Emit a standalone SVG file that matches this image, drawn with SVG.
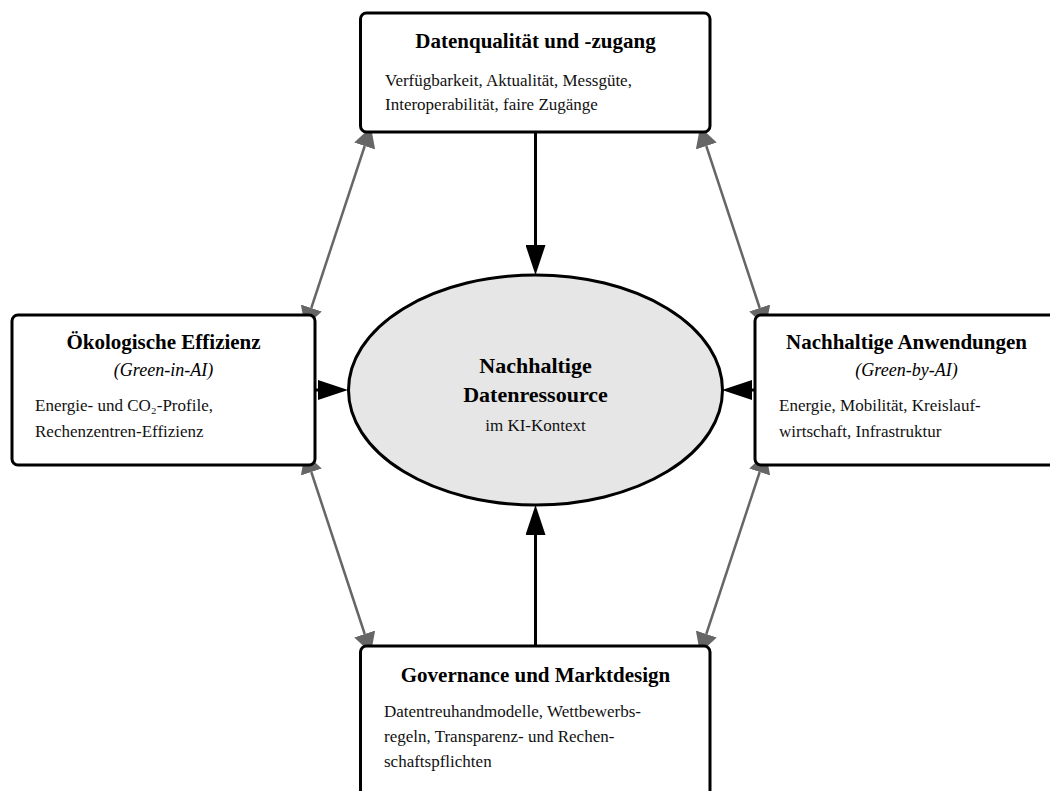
<svg xmlns="http://www.w3.org/2000/svg" width="1050" height="791" viewBox="0 0 1050 791">
  <defs>
    <style>
      .box { fill: #ffffff; stroke: #000000; stroke-width: 3; }
      .core { fill: #e6e6e6; stroke: #000000; stroke-width: 3; }
      .title { font-family: "Liberation Serif", "Times New Roman", serif; font-size: 21px; font-weight: bold; fill: #000; text-anchor: middle; }
      .core-title { font-family: "Liberation Serif", "Times New Roman", serif; font-size: 22px; font-weight: bold; fill: #000; text-anchor: middle; }
      .sub { font-family: "Liberation Serif", "Times New Roman", serif; font-size: 18px; font-style: italic; fill: #000; text-anchor: middle; }
      .body { font-family: "Liberation Serif", "Times New Roman", "DejaVu Serif", serif; font-size: 17px; fill: #111; }
      .core-body { font-family: "Liberation Serif", "Times New Roman", serif; font-size: 17px; fill: #111; text-anchor: middle; }
      .flow { stroke: #000000; stroke-width: 3; fill: none; marker-end: url(#headBlack); }
      .link { stroke: #666666; stroke-width: 2.5; fill: none; marker-start: url(#headGray); marker-end: url(#headGray); }
    </style>
    <marker id="headBlack" viewBox="0 0 30 20" refX="0" refY="10" markerWidth="30" markerHeight="20" markerUnits="userSpaceOnUse" orient="auto">
      <path d="M0,0 L30,10 L0,20 z" fill="#000000"/>
    </marker>
    <marker id="headGray" viewBox="0 0 20 22" refX="0" refY="11" markerWidth="20" markerHeight="22" markerUnits="userSpaceOnUse" orient="auto-start-reverse">
      <path d="M0,0 L20,11 L0,22 z" fill="#666666"/>
    </marker>
  </defs>

  <rect width="1050" height="791" fill="#ffffff"/>

  <!-- connectors -->
  <g id="connectors">
    <line class="flow" x1="535.5" y1="132" x2="535.5" y2="245"/>
    <line class="flow" x1="535.5" y1="646" x2="535.5" y2="535"/>
    <line class="flow" x1="315" y1="390" x2="318" y2="390"/>
    <line class="flow" x1="755" y1="390" x2="752" y2="390"/>
    <line class="link" x1="364.7" y1="146" x2="311.3" y2="308"/>
    <line class="link" x1="706.3" y1="146" x2="759.7" y2="308"/>
    <line class="link" x1="364.7" y1="634" x2="311.3" y2="472"/>
    <line class="link" x1="706.3" y1="634" x2="759.7" y2="472"/>
  </g>

  <!-- central resource -->
  <g id="core">
    <ellipse class="core" cx="535.5" cy="390" rx="187" ry="115"/>
    <text class="core-title" x="535.5" y="373">Nachhaltige</text>
    <text class="core-title" x="535.5" y="402">Datenressource</text>
    <text class="core-body" x="535.5" y="431">im KI-Kontext</text>
  </g>

  <!-- data quality and access -->
  <g id="data-quality">
    <rect class="box" x="360.5" y="13" width="349.5" height="119" rx="6"/>
    <text class="title" x="535.5" y="48">Datenqualität und -zugang</text>
    <text class="body" x="385" y="86">Verfügbarkeit, Aktualität, Messgüte,</text>
    <text class="body" x="385" y="110">Interoperabilität, faire Zugänge</text>
  </g>

  <!-- ecological efficiency -->
  <g id="green-in-ai">
    <rect class="box" x="12" y="315" width="303" height="150" rx="6"/>
    <text class="title" x="163.5" y="349">Ökologische Effizienz</text>
    <text class="sub" x="163.5" y="376">(Green-in-AI)</text>
    <text class="body" x="35" y="411">Energie- und CO₂-Profile,</text>
    <text class="body" x="35" y="437">Rechenzentren-Effizienz</text>
  </g>

  <!-- sustainable applications -->
  <g id="green-by-ai">
    <rect class="box" x="755" y="315" width="303" height="150" rx="6"/>
    <text class="title" x="906.5" y="349">Nachhaltige Anwendungen</text>
    <text class="sub" x="906.5" y="376">(Green-by-AI)</text>
    <text class="body" x="779" y="411">Energie, Mobilität, Kreislauf-</text>
    <text class="body" x="779" y="437">wirtschaft, Infrastruktur</text>
  </g>

  <!-- governance and market design -->
  <g id="governance">
    <rect class="box" x="360.5" y="646" width="349.5" height="170" rx="6"/>
    <text class="title" x="535.5" y="682">Governance und Marktdesign</text>
    <text class="body" x="384" y="717">Datentreuhandmodelle, Wettbewerbs-</text>
    <text class="body" x="384" y="742">regeln, Transparenz- und Rechen-</text>
    <text class="body" x="384" y="767">schaftspflichten</text>
  </g>
</svg>
